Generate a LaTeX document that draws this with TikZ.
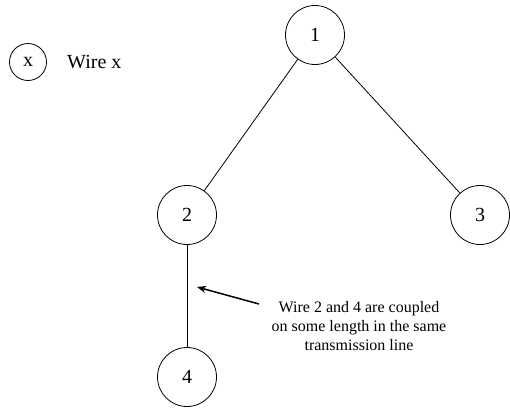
\documentclass[tikz,border=0pt]{standalone}
\usepackage{fontspec}
\setmainfont{Liberation Serif}
\usetikzlibrary{arrows.meta}

\begin{document}
\begin{tikzpicture}[x=1pt,y=-1pt]
  \tikzset{wire/.style={draw,circle,line width=0.8pt,minimum size=59pt,inner sep=0pt,font=\fontsize{20}{24}\selectfont}}
  \useasboundingbox (0,0) rectangle (510,408);
  \node[draw,circle,minimum size=37pt,inner sep=0pt,line width=0.8pt,font=\fontsize{20}{24}\selectfont] (lx) at (28,62) {x};
  \node[anchor=west,inner sep=0pt,font=\fontsize{20}{24}\selectfont] (lt) at (67,62) {Wire x};
  \node[wire] (w1) at (315,35) {1};
  \node[wire] (w2) at (187,215) {2};
  \node[wire] (w3) at (480,215) {3};
  \node[wire] (w4) at (187,377) {4};
  \foreach \a/\b in {w1/w2,w1/w3,w2/w4} {
    \draw[line width=0.8pt] (\a) -- (\b);
  }
  \node[align=center,inner sep=0pt,font=\fontsize{16}{19}\selectfont] (note) at (359,326) {Wire 2 and 4 are coupled\\on some length in the same\\transmission line};
  \coordinate (tip) at (197,287);
  \coordinate (tail) at (259,304);
  \draw[-{Stealth[length=9pt,width=7pt]},line width=1.5pt] (tail) -- (tip);
\end{tikzpicture}
\end{document}
